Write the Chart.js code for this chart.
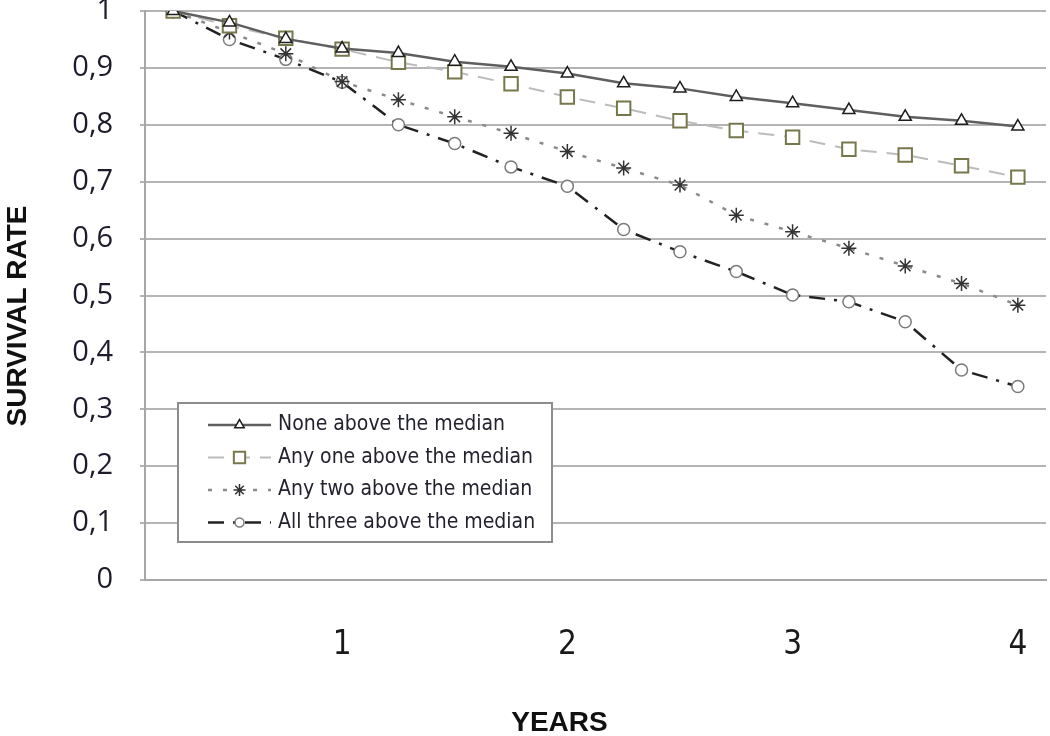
<!DOCTYPE html>
<html>
<head>
<meta charset="utf-8">
<script src="https://cdn.jsdelivr.net/npm/chart.js@4.4.1/dist/chart.umd.min.js"></script>
<style>
  html, body { margin: 0; padding: 0; background: #fff; }
  #wrap { width: 1050px; height: 736px; }
</style>
</head>
<body>
<div id="wrap"><canvas id="survival-chart" width="1050" height="736"></canvas></div>
<script>
// Time points (years), one every quarter
const years = [0.25, 0.5, 0.75, 1, 1.25, 1.5, 1.75, 2, 2.25, 2.5, 2.75, 3, 3.25, 3.5, 3.75, 4];

// Survival rates
const noneAbove = [1.0, 0.98, 0.951, 0.934, 0.926, 0.911, 0.902, 0.89, 0.873, 0.864, 0.849, 0.838, 0.826, 0.814, 0.807, 0.797];
const oneAbove = [1.0, 0.974, 0.952, 0.933, 0.91, 0.893, 0.872, 0.849, 0.829, 0.807, 0.79, 0.778, 0.757, 0.747, 0.728, 0.708];
const twoAbove = [1.0, 0.963, 0.925, 0.876, 0.844, 0.814, 0.785, 0.753, 0.724, 0.694, 0.641, 0.612, 0.583, 0.552, 0.521, 0.483];
const threeAbove = [1.0, 0.95, 0.915, 0.875, 0.80, 0.767, 0.726, 0.692, 0.616, 0.577, 0.542, 0.501, 0.489, 0.454, 0.369, 0.34];

const seriesNames = [
  'None above the median',
  'Any one above the median',
  'Any two above the median',
  'All three above the median',
];

const yTicks = [0, 0.1, 0.2, 0.3, 0.4, 0.5, 0.6, 0.7, 0.8, 0.9, 1];

const xTitle = 'YEARS';
const yTitle = 'SURVIVAL RATE';

// Format numbers with a decimal comma
function commaNum(v) {
  if (Math.abs(v - Math.round(v)) < 1e-9) return String(Math.round(v));
  return v.toFixed(1).replace('.', ',');
}

// Drop the automatic label padding so the plot area keeps its fixed size
function noAutoPadding(scale) {
  scale.paddingTop = 0;
  scale.paddingBottom = 0;
  scale.paddingLeft = 0;
  scale.paddingRight = 0;
}

// Axis titles, placed a bit off-centre like the original
const axisTitles = {
  id: 'axisTitles',
  afterDraw(chart) {
    const { ctx, chartArea } = chart;
    ctx.save();
    ctx.fillStyle = '#111';
    ctx.font = 'bold 28px "Liberation Sans", Arial, sans-serif';
    ctx.textAlign = 'center';
    ctx.textBaseline = 'middle';
    ctx.fillText(xTitle, chartArea.left + chartArea.width * 0.46, chart.height - 13);
    ctx.translate(18, chartArea.top + chartArea.height * 0.536);
    ctx.rotate(-Math.PI / 2);
    ctx.fillText(yTitle, 0, 0);
    ctx.restore();
  },
};

// Legend drawn inside the plot area, bottom-left
const insideLegend = {
  id: 'insideLegend',
  afterDraw(chart) {
    const { ctx, chartArea } = chart;
    const x0 = chartArea.left + 33;
    const y0 = chartArea.top + 392;
    const w = 374;
    const h = 139;
    ctx.save();
    ctx.fillStyle = '#fff';
    ctx.fillRect(x0, y0, w, h);
    ctx.strokeStyle = '#8c8c8c';
    ctx.lineWidth = 2;
    ctx.strokeRect(x0, y0, w, h);

    chart.data.datasets.forEach((ds, i) => {
      const cy = y0 + 22 + i * 32.5;
      const lx1 = x0 + 30;
      const lx2 = x0 + 93;
      // line sample
      ctx.save();
      ctx.strokeStyle = ds.borderColor;
      ctx.lineWidth = ds.borderWidth;
      ctx.setLineDash(ds.borderDash || []);
      ctx.beginPath();
      ctx.moveTo(lx1, cy);
      ctx.lineTo(lx2, cy);
      ctx.stroke();
      ctx.restore();
      // marker sample
      ctx.save();
      ctx.fillStyle = ds.pointBackgroundColor;
      ctx.strokeStyle = ds.pointBorderColor;
      ctx.lineWidth = ds.pointBorderWidth;
      Chart.helpers.drawPoint(ctx, {
        pointStyle: ds.pointStyle,
        radius: ds.pointRadius - 1.5,
        rotation: 0,
        borderWidth: ds.pointBorderWidth,
      }, (lx1 + lx2) / 2, cy);
      ctx.restore();
      // label
      ctx.fillStyle = '#23232f';
      ctx.font = '21px "DejaVu Sans Condensed", "DejaVu Sans", sans-serif';
      ctx.textBaseline = 'middle';
      ctx.textAlign = 'left';
      ctx.fillText(seriesNames[i], x0 + 100, cy);
    });
    ctx.restore();
  },
};

const ctx = document.getElementById('survival-chart');

new Chart(ctx, {
  type: 'line',
  data: {
    labels: years,
    datasets: [
      {
        label: seriesNames[0],
        data: noneAbove,
        borderColor: '#5f5f5f',
        borderWidth: 2.5,
        borderDash: [],
        pointStyle: 'triangle',
        pointRadius: 7,
        pointBackgroundColor: '#ffffff',
        pointBorderColor: '#1e1e1e',
        pointBorderWidth: 1.5,
        tension: 0,
      },
      {
        label: seriesNames[1],
        data: oneAbove,
        borderColor: '#bcbcbc',
        borderWidth: 2,
        borderDash: [16, 10],
        pointStyle: 'rect',
        pointRadius: 9.5,
        pointBackgroundColor: '#ffffff',
        pointBorderColor: '#77774c',
        pointBorderWidth: 2,
        tension: 0,
      },
      {
        label: seriesNames[2],
        data: twoAbove,
        borderColor: '#8a8a8a',
        borderWidth: 2.5,
        borderDash: [4, 11],
        pointStyle: 'star',
        pointRadius: 7.5,
        pointBackgroundColor: '#ffffff',
        pointBorderColor: '#333333',
        pointBorderWidth: 1.5,
        tension: 0,
      },
      {
        label: seriesNames[3],
        data: threeAbove,
        borderColor: '#222222',
        borderWidth: 2.5,
        borderDash: [16, 9, 3, 9],
        pointStyle: 'circle',
        pointRadius: 6,
        pointBackgroundColor: '#ffffff',
        pointBorderColor: '#7a7a7a',
        pointBorderWidth: 1.5,
        tension: 0,
      },
    ],
  },
  options: {
    responsive: false,
    animation: false,
    layout: {
      autoPadding: false,
      padding: { top: 11, right: 4, left: 0, bottom: 0 },
    },
    plugins: {
      legend: { display: false },
      tooltip: { enabled: false },
    },
    scales: {
      x: {
        type: 'category',
        offset: true,
        grid: { display: false, drawTicks: false },
        border: { display: true, color: '#a6a6a6', width: 2 },
        ticks: {
          autoSkip: false,
          maxRotation: 0,
          minRotation: 0,
          padding: 46,
          color: '#1a1a1a',
          font: { family: '"Liberation Sans Narrow", "DejaVu Sans Condensed", sans-serif', size: 33 },
          callback: (value, index) => {
            const yr = years[index];
            return Number.isInteger(yr) ? String(yr) : '';
          },
        },
        afterFit: (scale) => {
          scale.height = 156;
          noAutoPadding(scale);
        },
      },
      y: {
        min: 0,
        max: 1,
        afterBuildTicks: (scale) => { scale.ticks = yTicks.map(v => ({ value: v })); },
        grid: {
          color: '#b4b4b4',
          lineWidth: 2,
          drawTicks: true,
          tickLength: 5,
        },
        border: { display: true, color: '#a6a6a6', width: 2 },
        ticks: {
          padding: 27,
          color: '#1c1c2c',
          font: { family: '"Open Sans", "DejaVu Sans", sans-serif', size: 29 },
          callback: (value) => commaNum(value),
        },
        afterFit: (scale) => {
          scale.width = 145;
          noAutoPadding(scale);
        },
      },
    },
  },
  plugins: [insideLegend, axisTitles],
});
</script>
</body>
</html>
